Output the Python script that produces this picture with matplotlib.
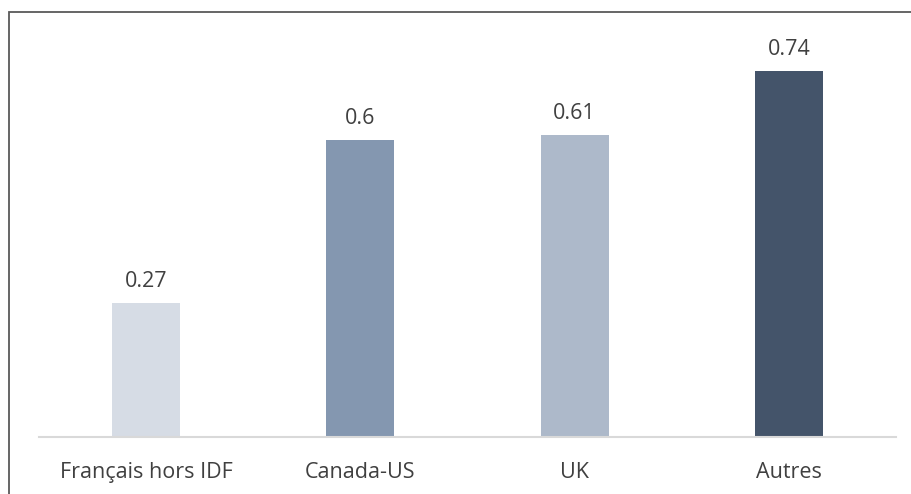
import matplotlib
matplotlib.use('Agg')
import matplotlib.pyplot as plt
from matplotlib.patches import Rectangle

categories = ["Français hors IDF", "Canada-US", "UK", "Autres"]
values = [0.27, 0.6, 0.61, 0.74]
colors = ['#D6DCE5', '#8497B0', '#ADB9CA', '#44546A']

plt.rcParams['font.family'] = ['Open Sans', 'DejaVu Sans']

fig = plt.figure(figsize=(9.12, 4.94), dpi=100)
ax = fig.add_axes([0.0428, 0.1154, 0.9397, 0.8016])

x = range(len(categories))
ax.bar(x, values, width=0.317, color=colors)
ax.set_xlim(-0.5, len(categories) - 0.5)
ax.set_ylim(0, 0.8)

for i, v in enumerate(values):
    ax.annotate(str(v), (i, v), xytext=(0, 8), textcoords='offset points',
                ha='center', va='bottom', fontsize=15.5, color='#404040')

ax.set_xticks(list(x))
ax.set_xticklabels(categories, fontsize=15.5, color='#404040')
ax.tick_params(axis='x', length=0, pad=18)
ax.set_yticks([])
for s in ['top', 'right', 'left']:
    ax.spines[s].set_visible(False)
ax.spines['bottom'].set_color('#D9D9D9')
ax.spines['bottom'].set_linewidth(1.5)

# outer frame, cut off on the right and bottom
fig.patches.append(Rectangle((9.5 / 912, -0.1), 1.2, 1.1 - 12.5 / 494,
                             transform=fig.transFigure, fill=False,
                             edgecolor='#595959', linewidth=1.3))

plt.savefig("out.png", dpi=100)
plt.close()
